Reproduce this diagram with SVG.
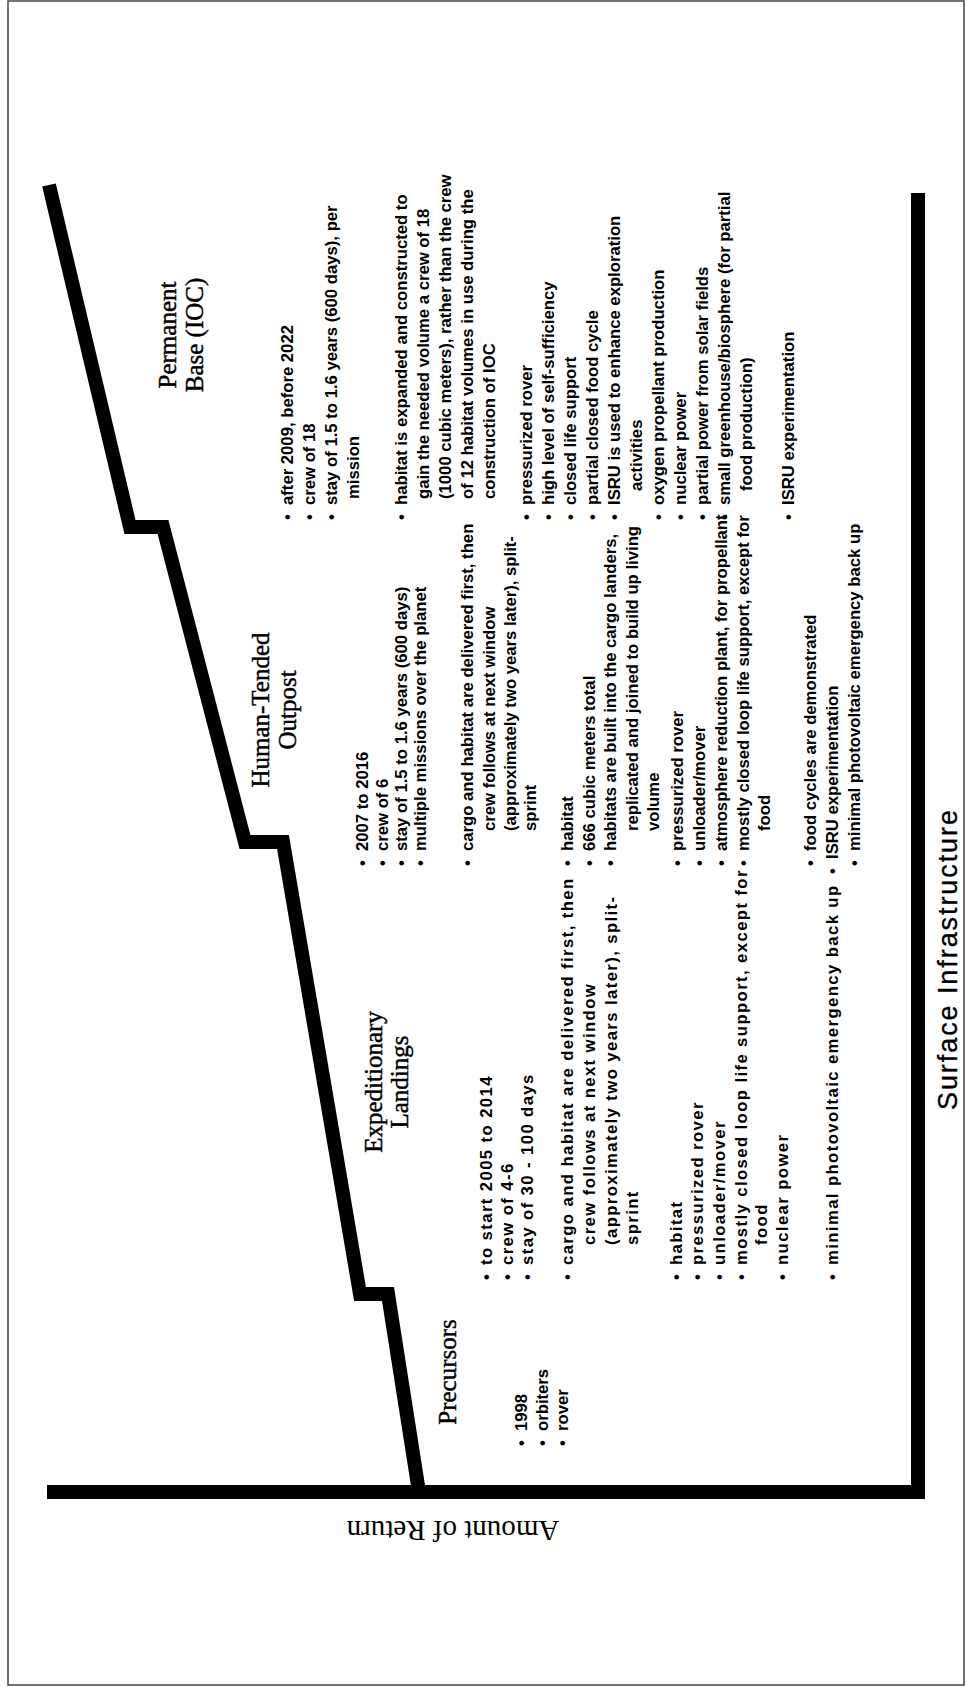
<svg xmlns="http://www.w3.org/2000/svg" width="966" height="1687" viewBox="0 0 966 1687">
<style>
.ttl{font-family:"Liberation Serif","Times New Roman",serif;font-size:25px;text-anchor:middle;fill:#000;stroke:#000;stroke-width:0.45}
.b{font-family:"Liberation Sans",Arial,sans-serif;font-weight:bold;font-size:16.7px;fill:#000}
.ex{letter-spacing:1.4px}
.ax{font-family:"Liberation Sans",Arial,sans-serif;font-size:27px;text-anchor:middle;fill:#000;stroke:#000;stroke-width:0.3}
.ay{font-family:"Liberation Serif","Times New Roman",serif;font-size:29px;text-anchor:middle;fill:#000}
.bar{fill:#000}
.stair{fill:none;stroke:#000;stroke-width:14;stroke-linejoin:miter;stroke-miterlimit:10;stroke-linecap:butt}
</style>
<rect x="8" y="1" width="956" height="1684" fill="#fff" stroke="#444" stroke-width="1.5"/>
<g id="connectors">
<rect class="bar" x="47" y="1485" width="878" height="14"/>
<rect class="bar" x="911" y="193" width="14" height="1306"/>
<path class="stair" d="M419,1492 L388,1294 L360,1294 L283,842 L245,842 L163,527 L130,527 L49,185"/>
</g>
<text class="ay" x="453" y="1539" transform="rotate(180 453 1530)">Amount of Return</text>
<g transform="matrix(0,-1,1,0,0,1687)">
<text id="x-axis-label" class="ax" x="727" y="957" textLength="300" lengthAdjust="spacing">Surface Infrastructure</text>
<g id="precursors">
<text class="ttl" x="315" y="456">Precursors</text>
<text class="b" y="526.5"><tspan x="241">•</tspan><tspan x="256">1998</tspan></text>
<text class="b" y="547.5"><tspan x="241">•</tspan><tspan x="256">orbiters</tspan></text>
<text class="b" y="567.5"><tspan x="241">•</tspan><tspan x="256">rover</tspan></text>
</g>
<g id="expeditionary-landings">
<text class="ttl" x="605" y="382">Expeditionary</text>
<text class="ttl" x="605" y="408">Landings</text>
<g class="b ex">
<text y="491.5"><tspan x="407">•</tspan><tspan x="422">to start 2005 to 2014</tspan></text>
<text y="512.5"><tspan x="407">•</tspan><tspan x="422">crew of 4-6</tspan></text>
<text y="532.5"><tspan x="407">•</tspan><tspan x="422">stay of 30 - 100 days</tspan></text>
<text y="572.5"><tspan x="407">•</tspan><tspan x="422">cargo and habitat are delivered first, then</tspan></text>
<text y="594.5" x="442">crew follows at next window</text>
<text y="616.5" x="442">(approximately two years later), split-</text>
<text y="637.5" x="442">sprint</text>
<text y="681.5"><tspan x="407">•</tspan><tspan x="422">habitat</tspan></text>
<text y="702.5"><tspan x="407">•</tspan><tspan x="422">pressurized rover</tspan></text>
<text y="724.5"><tspan x="407">•</tspan><tspan x="422">unloader/mover</tspan></text>
<text y="746.5"><tspan x="407">•</tspan><tspan x="422">mostly closed loop life support, except for</tspan></text>
<text y="766.5" x="442">food</text>
<text y="787.5"><tspan x="407">•</tspan><tspan x="422">nuclear power</tspan></text>
<text y="837.5"><tspan x="407">•</tspan><tspan x="422">minimal photovoltaic emergency back up</tspan></text>
</g>
</g>
<g id="human-tended-outpost">
<text class="ttl" x="977" y="269">Human-Tended</text>
<text class="ttl" x="977" y="296">Outpost</text>
<g class="b">
<text y="367.5"><tspan x="821">•</tspan><tspan x="836">2007 to 2016</tspan></text>
<text y="387.5"><tspan x="821">•</tspan><tspan x="836">crew of 6</tspan></text>
<text y="406.5"><tspan x="821">•</tspan><tspan x="836">stay of 1.5 to 1.6 years (600 days)</tspan></text>
<text y="425.5"><tspan x="821">•</tspan><tspan x="836">multiple missions over the planet</tspan></text>
<text y="472.5"><tspan x="821">•</tspan><tspan x="836">cargo and habitat are delivered first, then</tspan></text>
<text y="494.5" x="856">crew follows at next window</text>
<text y="515.5" x="856">(approximately two years later), split-</text>
<text y="535.5" x="856">sprint</text>
<text y="572.5"><tspan x="821">•</tspan><tspan x="836">habitat</tspan></text>
<text y="594.5"><tspan x="821">•</tspan><tspan x="836">666 cubic meters total</tspan></text>
<text y="615.5"><tspan x="821">•</tspan><tspan x="836">habitats are built into the cargo landers,</tspan></text>
<text y="637.5" x="856">replicated and joined to build up living</text>
<text y="658.5" x="856">volume</text>
<text y="682.5"><tspan x="821">•</tspan><tspan x="836">pressurized rover</tspan></text>
<text y="704.5"><tspan x="821">•</tspan><tspan x="836">unloader/mover</tspan></text>
<text y="726.5"><tspan x="821">•</tspan><tspan x="836">atmosphere reduction plant, for propellant</tspan></text>
<text y="748.5"><tspan x="821">•</tspan><tspan x="836">mostly closed loop life support, except for</tspan></text>
<text y="769.5" x="856">food</text>
<text y="815.5"><tspan x="821">•</tspan><tspan x="836">food cycles are demonstrated</tspan></text>
<text y="837.5"><tspan x="813">•</tspan><tspan x="828">ISRU experimentation</tspan></text>
<text y="859.5"><tspan x="821">•</tspan><tspan x="836">minimal photovoltaic emergency back up</tspan></text>
</g>
</g>
<g id="permanent-base-ioc">
<text class="ttl" x="1352" y="176">Permanent</text>
<text class="ttl" x="1352" y="203">Base (IOC)</text>
<g class="b">
<text y="292.5"><tspan x="1167">•</tspan><tspan x="1182">after 2009, before 2022</tspan></text>
<text y="314.5"><tspan x="1167">•</tspan><tspan x="1182">crew of 18</tspan></text>
<text y="336.5"><tspan x="1167">•</tspan><tspan x="1182">stay of 1.5 to 1.6 years (600 days), per</tspan></text>
<text y="358.5" x="1188">mission</text>
<text y="406.5"><tspan x="1167">•</tspan><tspan x="1182">habitat is expanded and constructed to</tspan></text>
<text y="428.5" x="1188">gain the needed volume a crew of 18</text>
<text y="450.5" x="1188">(1000 cubic meters), rather than the crew</text>
<text y="472.5" x="1188">of 12 habitat volumes in use during the</text>
<text y="494.5" x="1188">construction of IOC</text>
<text y="531.5"><tspan x="1167">•</tspan><tspan x="1182">pressurized rover</tspan></text>
<text y="553.5"><tspan x="1167">•</tspan><tspan x="1182">high level of self-sufficiency</tspan></text>
<text y="575.5"><tspan x="1167">•</tspan><tspan x="1182">closed life support</tspan></text>
<text y="597.5"><tspan x="1167">•</tspan><tspan x="1182">partial closed food cycle</tspan></text>
<text y="619.5"><tspan x="1167">•</tspan><tspan x="1182">ISRU is used to enhance exploration</tspan></text>
<text y="641.5" x="1196">activities</text>
<text y="663.5"><tspan x="1167">•</tspan><tspan x="1182">oxygen propellant production</tspan></text>
<text y="685.5"><tspan x="1167">•</tspan><tspan x="1182">nuclear power</tspan></text>
<text y="707.5"><tspan x="1167">•</tspan><tspan x="1182">partial power from solar fields</tspan></text>
<text y="729.5"><tspan x="1167">•</tspan><tspan x="1182">small greenhouse/biosphere (for partial</tspan></text>
<text y="751.5" x="1196">food production)</text>
<text y="793.5"><tspan x="1167">•</tspan><tspan x="1182">ISRU experimentation</tspan></text>
</g>
</g>
</g>
</svg>
